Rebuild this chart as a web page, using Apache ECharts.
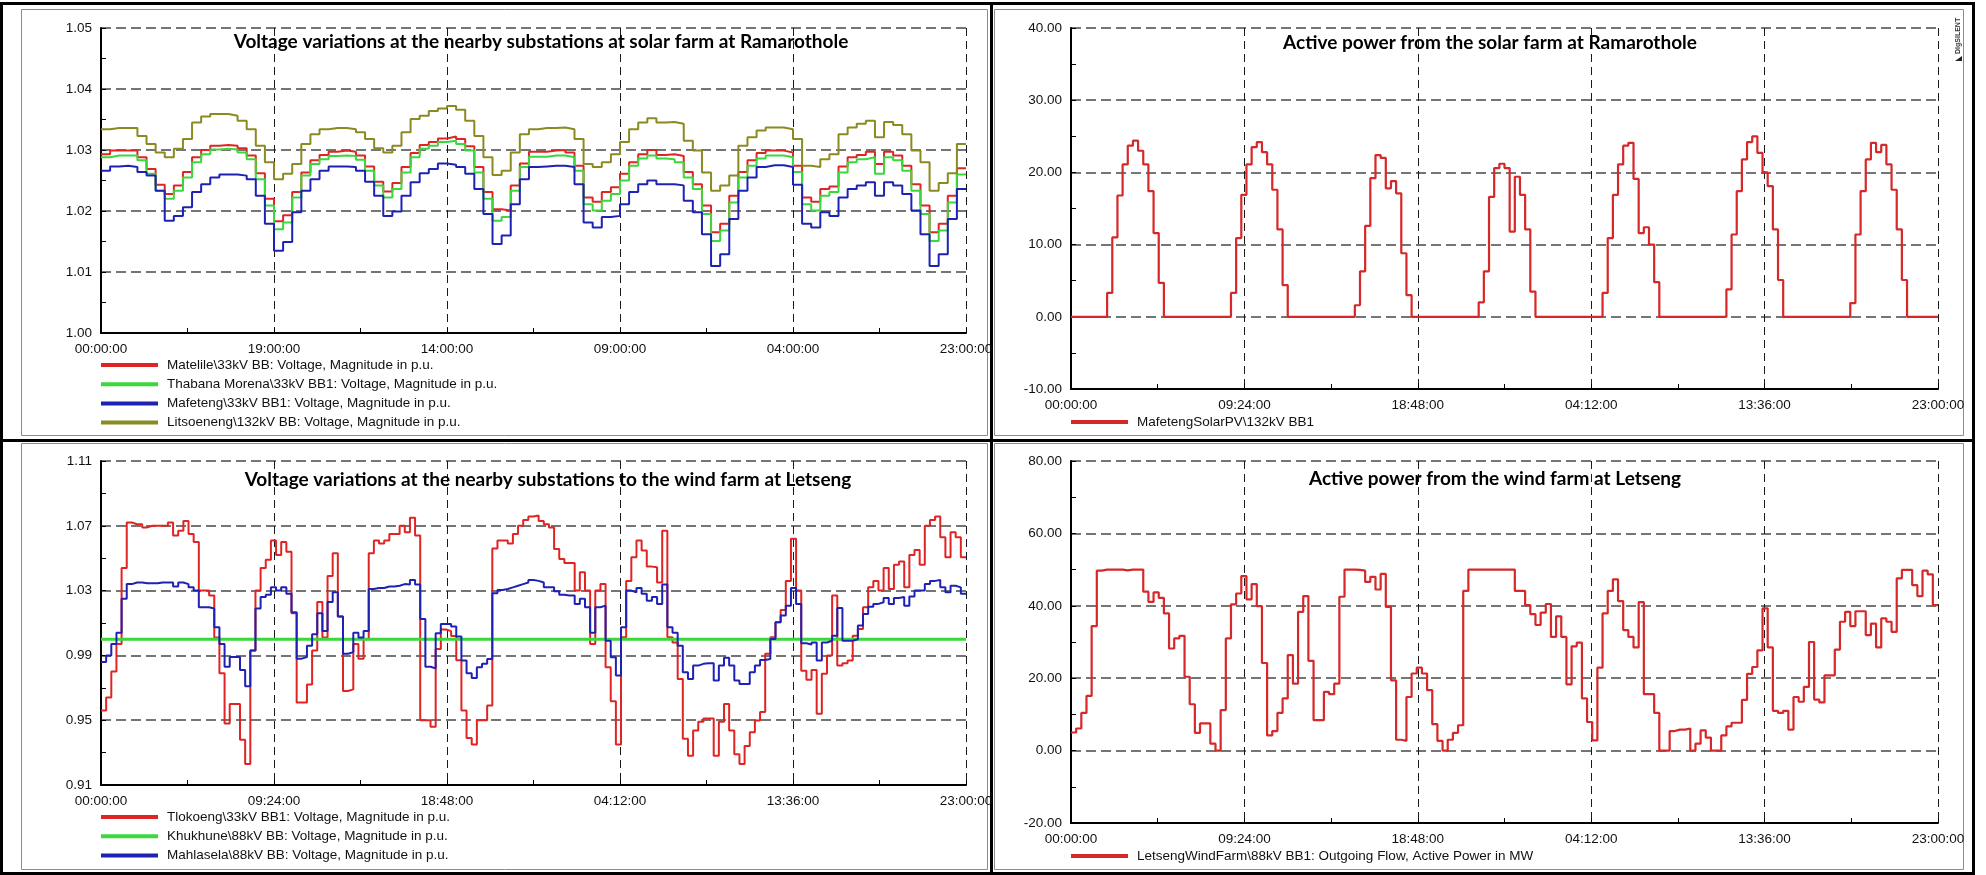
<!DOCTYPE html>
<html>
<head>
<meta charset="utf-8">
<title>Ramarothole solar farm and Letseng wind farm</title>
<script src="https://cdn.jsdelivr.net/npm/echarts@6/dist/echarts.min.js"></script>
<style>
  html, body { margin: 0; padding: 0; background: #fff; }
  #chart { width: 1986px; height: 875px; }
</style>
</head>
<body>
<div id="chart"></div>
<script>
// ---- axis tick labels ----
const solarVoltageTicks = ['00:00:00', '19:00:00', '14:00:00', '09:00:00', '04:00:00', '23:00:00'];
const powerTicks = ['00:00:00', '09:24:00', '18:48:00', '04:12:00', '13:36:00', '23:00:00'];

// ---- bus voltages near the Ramarothole solar farm (p.u., hourly steps) ----
const matelile = [
  1.0293, 1.0299, 1.0299, 1.0299, 1.0288, 1.0269, 1.0243, 1.0228, 1.0242, 1.0264, 1.0288, 1.0300,
  1.0307, 1.0308, 1.0307, 1.0303, 1.0291, 1.0262, 1.0220, 1.0183, 1.0193, 1.0231, 1.0263, 1.0283,
  1.0292, 1.0297, 1.0299, 1.0297, 1.0291, 1.0273, 1.0248, 1.0232, 1.0246, 1.0272, 1.0295, 1.0308,
  1.0313, 1.0319, 1.0322, 1.0318, 1.0306, 1.0272, 1.0231, 1.0203, 1.0201, 1.0242, 1.0278, 1.0297,
  1.0297, 1.0299, 1.0300, 1.0296, 1.0274, 1.0222, 1.0215, 1.0231, 1.0239, 1.0261, 1.0280, 1.0293,
  1.0300, 1.0292, 1.0293, 1.0290, 1.0264, 1.0244, 1.0209, 1.0165, 1.0179, 1.0225, 1.0264, 1.0283,
  1.0295, 1.0299, 1.0299, 1.0296, 1.0274, 1.0222, 1.0215, 1.0236, 1.0240, 1.0273, 1.0288, 1.0292,
  1.0297, 1.0277, 1.0297, 1.0291, 1.0274, 1.0244, 1.0209, 1.0165, 1.0179, 1.0225, 1.0270
];
const thabanaMorena = [
  1.0288, 1.0291, 1.0291, 1.0291, 1.0283, 1.0261, 1.0233, 1.0220, 1.0233, 1.0255, 1.0280, 1.0293,
  1.0301, 1.0302, 1.0301, 1.0296, 1.0285, 1.0252, 1.0209, 1.0170, 1.0181, 1.0222, 1.0258, 1.0277,
  1.0285, 1.0290, 1.0291, 1.0290, 1.0284, 1.0266, 1.0242, 1.0222, 1.0236, 1.0263, 1.0288, 1.0302,
  1.0307, 1.0313, 1.0315, 1.0310, 1.0299, 1.0263, 1.0220, 1.0184, 1.0190, 1.0233, 1.0272, 1.0289,
  1.0289, 1.0291, 1.0291, 1.0288, 1.0266, 1.0211, 1.0201, 1.0217, 1.0228, 1.0250, 1.0274, 1.0286,
  1.0291, 1.0286, 1.0285, 1.0280, 1.0255, 1.0236, 1.0195, 1.0151, 1.0168, 1.0214, 1.0255, 1.0274,
  1.0286, 1.0291, 1.0291, 1.0288, 1.0264, 1.0211, 1.0201, 1.0225, 1.0231, 1.0263, 1.0280, 1.0285,
  1.0288, 1.0261, 1.0288, 1.0283, 1.0266, 1.0233, 1.0195, 1.0151, 1.0168, 1.0214, 1.0260
];
const mafeteng = [
  1.0266, 1.0273, 1.0274, 1.0272, 1.0264, 1.0258, 1.0233, 1.0184, 1.0192, 1.0206, 1.0231, 1.0244,
  1.0255, 1.0260, 1.0260, 1.0258, 1.0252, 1.0225, 1.0179, 1.0135, 1.0149, 1.0198, 1.0233, 1.0252,
  1.0266, 1.0273, 1.0273, 1.0272, 1.0266, 1.0248, 1.0225, 1.0192, 1.0199, 1.0225, 1.0247, 1.0262,
  1.0269, 1.0278, 1.0276, 1.0272, 1.0261, 1.0236, 1.0195, 1.0146, 1.0160, 1.0211, 1.0252, 1.0272,
  1.0273, 1.0274, 1.0274, 1.0272, 1.0244, 1.0181, 1.0173, 1.0190, 1.0192, 1.0211, 1.0231, 1.0244,
  1.0250, 1.0244, 1.0244, 1.0242, 1.0217, 1.0198, 1.0162, 1.0110, 1.0129, 1.0187, 1.0233, 1.0255,
  1.0272, 1.0275, 1.0275, 1.0272, 1.0243, 1.0179, 1.0173, 1.0198, 1.0192, 1.0222, 1.0236, 1.0242,
  1.0247, 1.0225, 1.0247, 1.0242, 1.0228, 1.0201, 1.0162, 1.0110, 1.0129, 1.0187, 1.0236
];
const litsoeneng = [
  1.0334, 1.0336, 1.0336, 1.0336, 1.0323, 1.0310, 1.0296, 1.0288, 1.0302, 1.0318, 1.0345, 1.0355,
  1.0359, 1.0359, 1.0356, 1.0348, 1.0334, 1.0307, 1.0280, 1.0252, 1.0261, 1.0277, 1.0310, 1.0326,
  1.0334, 1.0336, 1.0336, 1.0334, 1.0329, 1.0318, 1.0303, 1.0296, 1.0307, 1.0329, 1.0351, 1.0356,
  1.0364, 1.0368, 1.0372, 1.0366, 1.0348, 1.0323, 1.0288, 1.0259, 1.0266, 1.0296, 1.0326, 1.0334,
  1.0336, 1.0336, 1.0337, 1.0334, 1.0318, 1.0277, 1.0272, 1.0280, 1.0293, 1.0313, 1.0334, 1.0345,
  1.0352, 1.0345, 1.0346, 1.0343, 1.0315, 1.0299, 1.0263, 1.0233, 1.0242, 1.0258, 1.0307, 1.0321,
  1.0332, 1.0337, 1.0337, 1.0334, 1.0318, 1.0274, 1.0272, 1.0285, 1.0293, 1.0326, 1.0337, 1.0343,
  1.0348, 1.0321, 1.0346, 1.0341, 1.0326, 1.0299, 1.0280, 1.0233, 1.0246, 1.0262, 1.0310
];

// ---- solar farm output (MW) ----
const solarPV = [
  0, 0, 0, 0, 0, 0, 0, 3.3, 11.0, 16.8, 21.1, 23.7, 24.4, 23.0, 21.1, 17.4, 11.6, 4.7, 0, 0, 0, 0, 0, 0,
  0, 0, 0, 0, 0, 0, 0, 3.3, 10.9, 16.9, 21.1, 23.5, 24.2, 22.8, 21.1, 17.6, 12.1, 4.4, 0, 0, 0, 0, 0, 0,
  0, 0, 0, 0, 0, 0, 0, 1.6, 6.3, 12.6, 19.2, 22.4, 22.0, 17.8, 18.8, 17.1, 8.8, 3.0, 0, 0, 0, 0, 0, 0,
  0, 0, 0, 0, 0, 0, 0, 2.0, 6.3, 16.6, 20.6, 21.2, 20.6, 11.8, 19.4, 16.9, 12.1, 3.5, 0, 0, 0, 0, 0, 0,
  0, 0, 0, 0, 0, 0, 0, 3.3, 10.9, 16.9, 21.1, 23.7, 24.1, 19.1, 11.6, 12.4, 10.0, 4.8, 0, 0, 0, 0, 0, 0,
  0, 0, 0, 0, 0, 0, 0, 3.8, 11.4, 17.4, 21.8, 24.2, 25.0, 22.7, 20.0, 18.1, 12.1, 5.1, 0, 0, 0, 0, 0, 0,
  0, 0, 0, 0, 0, 0, 0, 1.9, 11.4, 17.4, 21.8, 24.1, 22.8, 23.8, 21.1, 17.6, 12.1, 5.1, 0, 0, 0, 0, 0, 0
];

// ---- bus voltages near the Letseng wind farm (p.u.) ----
const tlokoeng = [
  0.956, 0.964, 0.980, 0.997, 1.044, 1.072, 1.071, 1.071, 1.069, 1.070, 1.070, 1.070,
  1.070, 1.072, 1.064, 1.067, 1.073, 1.065, 1.060, 1.030, 1.030, 1.027, 1.001, 0.979,
  0.948, 0.960, 0.960, 0.938, 0.923, 0.993, 1.030, 1.044, 1.049, 1.061, 1.052, 1.060,
  1.054, 1.016, 0.961, 0.961, 0.972, 0.993, 1.023, 1.001, 1.039, 1.053, 1.014, 0.968,
  0.969, 0.997, 0.988, 1.000, 1.053, 1.061, 1.059, 1.061, 1.065, 1.065, 1.070, 1.066,
  1.075, 1.064, 0.950, 0.950, 0.946, 0.994, 1.006, 1.005, 1.002, 0.987, 0.956, 0.939,
  0.935, 0.950, 0.950, 0.959, 1.056, 1.061, 1.061, 1.059, 1.065, 1.070, 1.0736, 1.0757,
  1.0763, 1.073, 1.071, 1.069, 1.0557, 1.0495, 1.047, 1.047, 1.030, 1.0413, 1.030, 0.997,
  1.030, 1.034, 0.9827, 0.9617, 0.935, 1.0012, 1.036, 1.0506, 1.061, 1.0547, 1.0448, 1.0444,
  1.035, 1.067, 1.0012, 0.998, 0.9755, 0.9385, 0.928, 0.9436, 0.949, 0.951, 0.951, 0.928,
  0.949, 0.960, 0.9436, 0.929, 0.923, 0.934, 0.9426, 0.9498, 0.955, 0.991, 1.0012, 1.0105,
  1.0181, 1.036, 1.062, 1.030, 0.9806, 0.9749, 0.981, 0.954, 0.9786, 0.990, 1.027, 0.9837,
  0.9852, 0.9868, 1.0022, 1.0063, 1.0197, 1.032, 1.036, 1.030, 1.044, 1.031, 1.046, 1.048,
  1.032, 1.052, 1.055, 1.046, 1.070, 1.0736, 1.0757, 1.063, 1.0506, 1.066, 1.063, 1.0506
];
const khukhune = [
  1.000, 1.000, 1.000, 1.000, 1.000, 1.000, 1.000, 1.000, 1.000, 1.000, 1.000, 1.000,
  1.000, 1.000, 1.000, 1.000, 1.000, 1.000, 1.000, 1.000, 1.000, 1.000, 1.000, 1.000,
  1.000, 1.000, 1.000, 1.000, 1.000, 1.000, 1.000, 1.000, 1.000, 1.000, 1.000, 1.000,
  1.000, 1.000, 1.000, 1.000, 1.000, 1.000, 1.000, 1.000, 1.000, 1.000, 1.000, 1.000,
  1.000, 1.000, 1.000, 1.000, 1.000, 1.000, 1.000, 1.000, 1.000, 1.000, 1.000, 1.000,
  1.000, 1.000, 1.000, 1.000, 1.000, 1.000, 1.000, 1.000, 1.000, 1.000, 1.000, 1.000,
  1.000, 1.000, 1.000, 1.000, 1.000, 1.000, 1.000, 1.000, 1.000, 1.000, 1.000, 1.000,
  1.000, 1.000, 1.000, 1.000, 1.000, 1.000, 1.000, 1.000, 1.000, 1.000, 1.000, 1.000,
  1.000, 1.000, 1.000, 1.000, 1.000, 1.000, 1.000, 1.000, 1.000, 1.000, 1.000, 1.000,
  1.000, 1.000, 1.000, 1.000, 1.000, 1.000, 1.000, 1.000, 1.000, 1.000, 1.000, 1.000,
  1.000, 1.000, 1.000, 1.000, 1.000, 1.000, 1.000, 1.000, 1.000, 1.000, 1.000, 1.000,
  1.000, 1.000, 1.000, 1.000, 1.000, 1.000, 1.000, 1.000, 1.000, 1.000, 1.000, 1.000,
  1.000, 1.000, 1.000, 1.000, 1.000, 1.000, 1.000, 1.000, 1.000, 1.000, 1.000, 1.000,
  1.000, 1.000, 1.000, 1.000, 1.000, 1.000, 1.000, 1.000, 1.000, 1.000, 1.000, 1.000
];
const mahlasela = [
  0.986, 0.990, 0.997, 1.004, 1.025, 1.034, 1.035, 1.035, 1.0345, 1.0345, 1.0345, 1.035,
  1.035, 1.035, 1.0325, 1.035, 1.034, 1.032, 1.030, 1.0197, 1.0197, 1.019, 1.0074, 0.997,
  0.983, 0.989, 0.989, 0.981, 0.971, 0.993, 1.019, 1.026, 1.0275, 1.032, 1.030, 1.032,
  1.028, 1.0166, 0.988, 0.989, 0.996, 1.003, 1.016, 1.005, 1.023, 1.029, 1.014, 0.991,
  0.992, 1.004, 1.001, 1.005, 1.031, 1.0316, 1.0316, 1.0325, 1.0325, 1.033, 1.034, 1.0337,
  1.0366, 1.0337, 1.0125, 0.983, 0.982, 1.0037, 1.0094, 1.0094, 1.0078, 1.0016, 0.9868, 0.979,
  0.976, 0.9827, 0.9848, 0.9878, 1.0284, 1.0304, 1.031, 1.032, 1.033, 1.034, 1.035, 1.0366,
  1.036, 1.035, 1.032, 1.032, 1.0296, 1.0275, 1.027, 1.027, 1.0218, 1.025, 1.0197, 1.004,
  1.0197, 1.0207, 0.999, 0.9889, 0.9776, 1.0074, 1.030, 1.029, 1.0316, 1.028, 1.0238, 1.026,
  1.0218, 1.0337, 1.0074, 1.004, 0.996, 0.9796, 0.9755, 0.9837, 0.9848, 0.9852, 0.9852, 0.9745,
  0.9837, 0.9885, 0.9837, 0.9745, 0.9724, 0.9724, 0.9796, 0.9837, 0.9872, 0.9878, 1.0002, 1.0105,
  1.0146, 1.0207, 1.0316, 1.0218, 0.9975, 0.9967, 0.998, 0.9868, 0.998, 0.999, 1.0022, 1.0193,
  0.999, 0.999, 1.000, 1.0084, 1.0156, 1.0201, 1.0218, 1.0228, 1.0255, 1.0218, 1.0255, 1.026,
  1.0207, 1.0263, 1.030, 1.030, 1.034, 1.036, 1.0366, 1.032, 1.029, 1.033, 1.032, 1.028
];

// ---- wind farm outgoing active power (MW) ----
const letsengWind = [
  5.0, 6.1, 10.4, 15.1, 34.4, 49.7, 50.0, 50.0, 50.0, 50.0, 49.8, 50.0,
  50.0, 50.0, 43.9, 41.1, 43.7, 42.2, 37.9, 28.2, 31.0, 31.7, 20.4, 12.8,
  4.9, 7.5, 7.5, 1.9, 0.0, 11.2, 31.0, 40.4, 43.4, 48.2, 41.8, 46.0,
  39.9, 24.2, 4.2, 5.4, 10.4, 14.4, 26.4, 18.5, 38.3, 42.7, 24.8, 8.4,
  8.4, 16.2, 15.6, 18.5, 42.5, 50.0, 50.0, 49.9, 49.7, 46.6, 48.0, 44.5,
  48.8, 39.7, 19.4, 3.0, 2.7, 14.8, 21.3, 22.9, 21.3, 16.7, 7.3, 2.7,
  0.0, 3.0, 4.9, 7.0, 44.1, 50.0, 50.0, 50.0, 50.0, 50.0, 50.0, 50.0,
  50.0, 50.0, 44.1, 44.1, 40.2, 37.7, 34.7, 38.1, 40.5, 31.4, 37.1, 31.4,
  18.3, 28.8, 29.8, 14.4, 7.9, 2.8, 22.9, 37.9, 44.1, 47.3, 41.3, 33.3,
  31.4, 28.5, 41.0, 15.6, 15.6, 10.4, 0.0, 0.0, 5.4, 5.8, 5.8, 6.1,
  0.0, 1.9, 5.6, 3.6, 0.0, 0.0, 4.2, 6.7, 7.7, 7.7, 14.0, 21.2,
  23.1, 27.7, 39.3, 28.5, 11.0, 10.4, 11.0, 5.8, 14.8, 13.5, 17.6, 30.0,
  14.1, 13.3, 20.8, 20.8, 27.9, 35.6, 38.3, 34.4, 38.5, 38.5, 31.9, 35.1,
  28.5, 36.5, 35.6, 32.8, 47.6, 49.9, 49.9, 45.7, 42.7, 49.7, 48.7, 40.2
];

// ---- drawing ----
const FONT = "'Liberation Sans', Arial, sans-serif";
const TITLE_FONT = "Lato, 'Liberation Sans', sans-serif";

// each value holds for one step; the trailing point closes the last step
function stepData(values) {
  const pts = values.map((v, i) => [i, v]);
  pts.push([values.length, values[values.length - 1]]);
  return pts;
}

function xAxisFor(gridIndex, count, ticks) {
  const interval = count / (ticks.length - 1);
  return {
    type: 'value', gridIndex, min: 0, max: count, interval,
    axisLine: { show: true, onZero: false, lineStyle: { color: '#000', width: 2 } },
    axisTick: { show: true, inside: true, length: 5, lineStyle: { color: '#000', width: 1 } },
    minorTick: { show: true, splitNumber: 2, length: 5, lineStyle: { color: '#000', width: 1 } },
    axisLabel: {
      formatter: v => ticks[Math.round(v / interval)],
      fontFamily: FONT, fontSize: 13.5, color: '#111', margin: 9,
      showMinLabel: true, showMaxLabel: true
    },
    splitLine: { show: true, lineStyle: { color: '#1a1a1a', width: 1, type: [8, 5] } }
  };
}

function yAxisFor(gridIndex, min, max, interval, digits) {
  return {
    type: 'value', gridIndex, min, max, interval,
    axisLine: { show: true, lineStyle: { color: '#000', width: 2 } },
    axisTick: { show: true, inside: true, length: 5, lineStyle: { color: '#000', width: 1 } },
    minorTick: { show: true, splitNumber: 2, length: 5, lineStyle: { color: '#000', width: 1 } },
    axisLabel: {
      formatter: v => v.toFixed(digits),
      fontFamily: FONT, fontSize: 13.5, color: '#111', margin: 9,
      showMinLabel: true, showMaxLabel: true
    },
    splitLine: { show: true, lineStyle: { color: '#484848', width: 1.6, type: [10, 5] } }
  };
}

function stepSeries(name, values, axisIndex, color, width) {
  return {
    name, type: 'line', xAxisIndex: axisIndex, yAxisIndex: axisIndex,
    step: 'end', symbol: 'none', showSymbol: false,
    data: stepData(values),
    lineStyle: { color, width },
    itemStyle: { color },
    emphasis: { disabled: true }
  };
}

function titleAt(text, cx, top) {
  return {
    text, left: cx, top, textAlign: 'center', padding: 0,
    textStyle: { fontFamily: TITLE_FONT, fontWeight: 'bold', fontSize: 19, color: '#000' }
  };
}

// legend keys are plain bars the width of the sample line
function legendAt(names, left, top) {
  return {
    data: names, orient: 'vertical', left, top, padding: 0,
    icon: 'rect', itemWidth: 57, itemHeight: 4, itemGap: 5.2,
    selectedMode: false,
    textStyle: { fontFamily: FONT, fontSize: 13.5, color: '#111', lineHeight: 14, padding: [0, 0, 0, 4] }
  };
}

const RED = '#e02424', GREEN = '#3ad83a', BLUE = '#1e22b4', OLIVE = '#8a8a20';

const names = {
  matelile: 'Matelile\\33kV BB: Voltage, Magnitude in p.u.',
  thabana: 'Thabana Morena\\33kV BB1: Voltage, Magnitude in p.u.',
  mafeteng: 'Mafeteng\\33kV BB1: Voltage, Magnitude in p.u.',
  litsoeneng: 'Litsoeneng\\132kV BB: Voltage, Magnitude in p.u.',
  solar: 'MafetengSolarPV\\132kV BB1',
  tlokoeng: 'Tlokoeng\\33kV BB1: Voltage, Magnitude in p.u.',
  khukhune: 'Khukhune\\88kV BB: Voltage, Magnitude in p.u.',
  mahlasela: 'Mahlasela\\88kV BB: Voltage, Magnitude in p.u.',
  wind: 'LetsengWindFarm\\88kV BB1: Outgoing Flow, Active Power in MW'
};

const option = {
  animation: false,
  backgroundColor: '#fff',
  title: [
    titleAt('Voltage variations at the nearby substations at solar farm at Ramarothole', 541, 32),
    titleAt('Active power from the solar farm at Ramarothole', 1490, 33),
    titleAt('Voltage variations at the nearby substations to the wind farm at Letseng', 548, 470),
    titleAt('Active power from the wind farm at Letseng', 1495, 469)
  ],
  legend: [
    legendAt([names.matelile, names.thabana, names.mafeteng, names.litsoeneng], 101, 358),
    legendAt([names.solar], 1071, 415),
    legendAt([names.tlokoeng, names.khukhune, names.mahlasela], 101, 810),
    legendAt([names.wind], 1071, 849)
  ],
  grid: [
    { left: 101, top: 28, width: 865, height: 305 },
    { left: 1071, top: 28, width: 867, height: 361 },
    { left: 101, top: 461, width: 865, height: 324 },
    { left: 1071, top: 461, width: 867, height: 362 }
  ],
  xAxis: [
    xAxisFor(0, matelile.length, solarVoltageTicks),
    xAxisFor(1, solarPV.length, powerTicks),
    xAxisFor(2, tlokoeng.length, powerTicks),
    xAxisFor(3, letsengWind.length, powerTicks)
  ],
  yAxis: [
    yAxisFor(0, 1.00, 1.05, 0.01, 2),
    yAxisFor(1, -10, 40, 10, 2),
    yAxisFor(2, 0.91, 1.11, 0.04, 2),
    yAxisFor(3, -20, 80, 20, 2)
  ],
  series: [
    stepSeries(names.matelile, matelile, 0, RED, 2),
    stepSeries(names.thabana, thabanaMorena, 0, GREEN, 2),
    stepSeries(names.mafeteng, mafeteng, 0, BLUE, 2),
    stepSeries(names.litsoeneng, litsoeneng, 0, OLIVE, 2),
    stepSeries(names.solar, solarPV, 1, '#d62828', 2.2),
    stepSeries(names.tlokoeng, tlokoeng, 2, RED, 2),
    stepSeries(names.khukhune, khukhune, 2, GREEN, 3),
    stepSeries(names.mahlasela, mahlasela, 2, BLUE, 2),
    stepSeries(names.wind, letsengWind, 3, '#d62828', 2.2)
  ],
  graphic: [
    // report table frame and cell dividers
    { type: 'rect', silent: true, shape: { x: 1.5, y: 3.5, width: 1972, height: 870 }, style: { fill: null, stroke: '#000', lineWidth: 3 } },
    { type: 'line', silent: true, shape: { x1: 991.5, y1: 3.5, x2: 991.5, y2: 873.5 }, style: { stroke: '#000', lineWidth: 3 } },
    { type: 'line', silent: true, shape: { x1: 1.5, y1: 440.5, x2: 1973.5, y2: 440.5 }, style: { stroke: '#000', lineWidth: 3 } },
    // plot page borders
    { type: 'rect', silent: true, shape: { x: 21.5, y: 9.5, width: 966, height: 426 }, style: { fill: null, stroke: '#8c8c8c', lineWidth: 1 } },
    { type: 'rect', silent: true, shape: { x: 994.5, y: 9.5, width: 969, height: 426 }, style: { fill: null, stroke: '#8c8c8c', lineWidth: 1 } },
    { type: 'rect', silent: true, shape: { x: 21.5, y: 443.5, width: 966, height: 426 }, style: { fill: null, stroke: '#8c8c8c', lineWidth: 1 } },
    { type: 'rect', silent: true, shape: { x: 994.5, y: 443.5, width: 969, height: 426 }, style: { fill: null, stroke: '#8c8c8c', lineWidth: 1 } },
    // software mark
    { type: 'text', silent: true, x: 1962, y: 54, rotation: Math.PI / 2,
      style: { text: 'DIgSILENT', fill: '#333', font: 'bold 7px ' + FONT, textAlign: 'left', textVerticalAlign: 'bottom' } },
    { type: 'polygon', silent: true, shape: { points: [[1955, 61], [1962, 56], [1962, 61]] }, style: { fill: '#222' } }
  ]
};

const chart = echarts.init(document.getElementById('chart'), null, { renderer: 'canvas', width: 1986, height: 875 });
chart.setOption(option);
</script>
</body>
</html>
